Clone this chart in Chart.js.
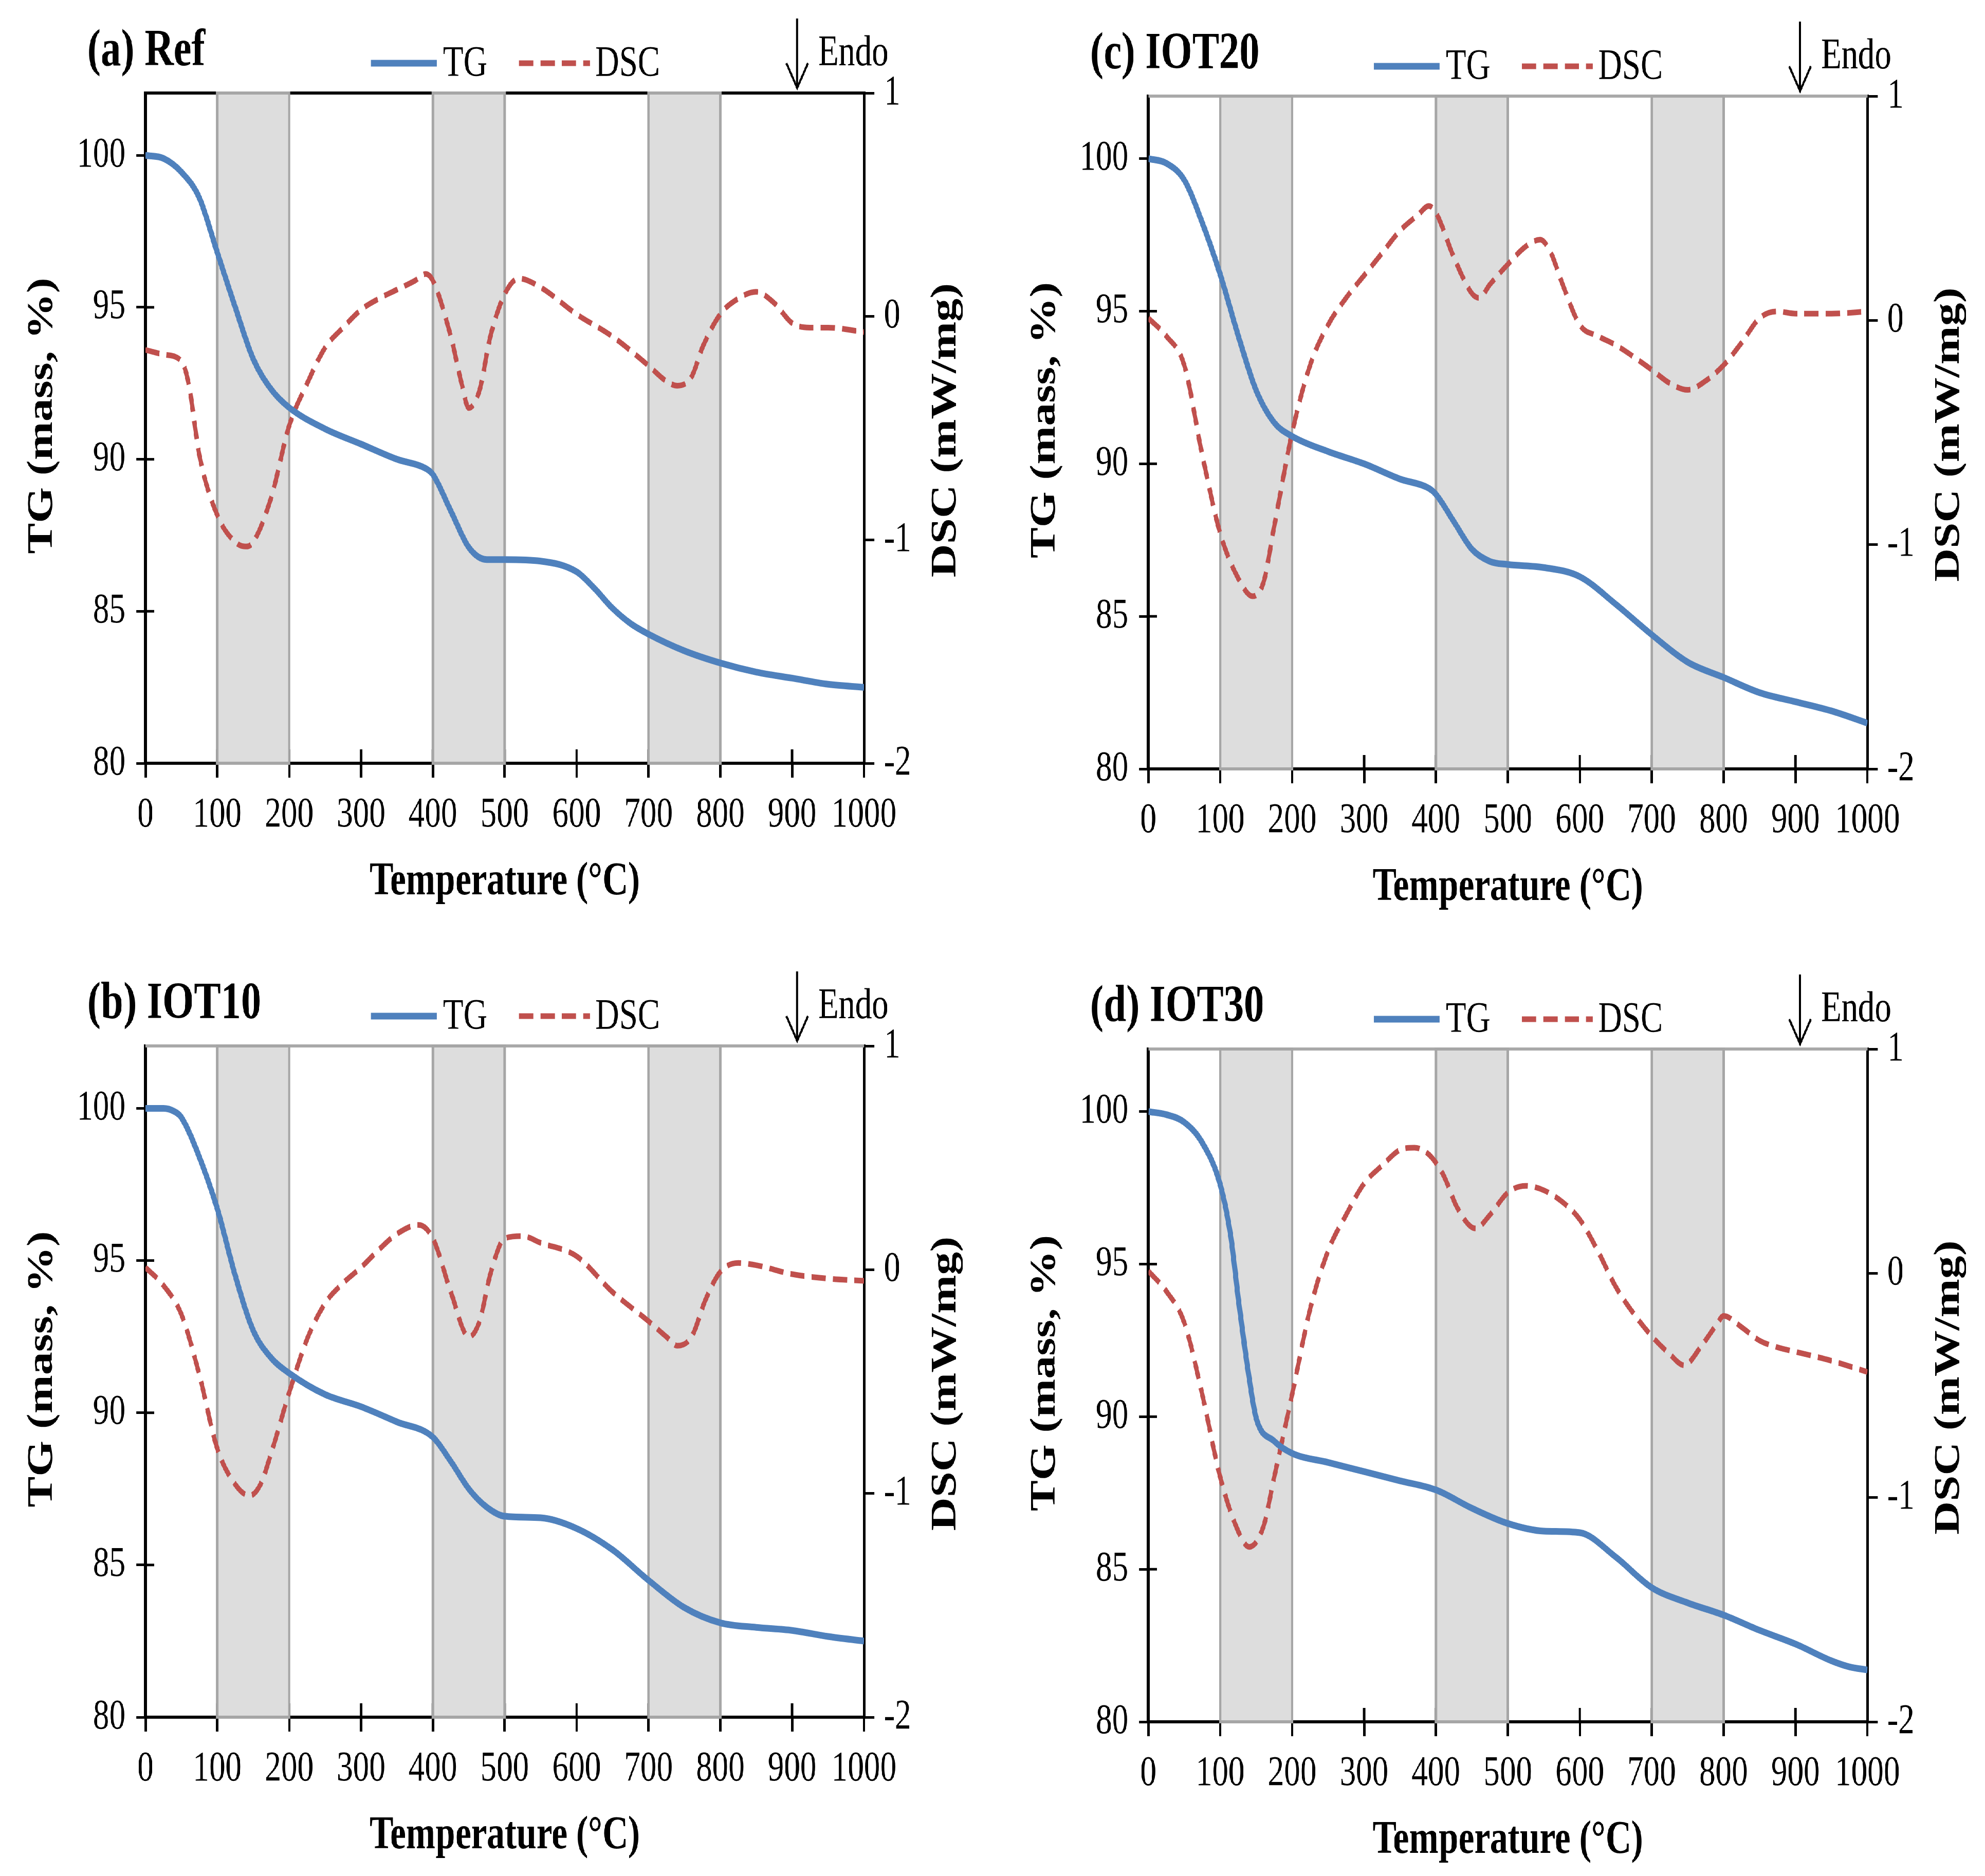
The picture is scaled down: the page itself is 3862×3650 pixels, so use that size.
<!DOCTYPE html>
<html>
<head>
<meta charset="utf-8">
<title>TG / DSC curves</title>
<script src="https://cdn.jsdelivr.net/npm/chart.js@4.4.1/dist/chart.umd.min.js"></script>
<style>
  html, body { margin: 0; padding: 0; background: #fff; }
  body { width: 3862px; height: 3650px; overflow: hidden; position: relative; }
  /* the original figure is squashed sideways, text included */
  #sheet { position: absolute; left: 0; top: 0; width: 5016px; height: 3650px;
           transform: scaleX(0.77); transform-origin: 0 0; }
  #sheet canvas { position: absolute; }
</style>
</head>
<body>
<div id="sheet"></div>
<script>
// ---- data ----
const tempTicks = [0, 100, 200, 300, 400, 500, 600, 700, 800, 900, 1000];
const tgTicks = [80, 85, 90, 95, 100];
const dscTicks = [-2, -1, 0, 1];
const bandRanges = [[100, 200], [400, 500], [700, 800]];

// (a) Ref
const refTgT = [0,25,50,75,100,125,150,175,200,250,300,350,390,400,425,450,475,500,550,600,625,650,675,700,750,800,850,900,950,1000];
const refTG  = [100,99.9,99.45,98.6,96.8,95.0,93.3,92.3,91.7,91.0,90.5,90.0,89.7,89.5,88.3,87.1,86.7,86.7,86.65,86.3,85.75,85.1,84.6,84.25,83.7,83.3,83.0,82.8,82.6,82.5];
const refDscT = [0,25,50,60,75,100,125,140,150,175,200,225,250,275,300,325,350,375,390,400,425,440,450,465,480,500,520,550,600,650,700,725,740,760,775,800,825,850,875,900,925,950,1000];
const refDSC  = [-0.15,-0.17,-0.2,-0.3,-0.62,-0.89,-1.01,-1.03,-1.01,-0.81,-0.49,-0.3,-0.14,-0.05,0.03,0.08,0.12,0.16,0.19,0.16,-0.09,-0.3,-0.41,-0.33,-0.09,0.1,0.17,0.13,0.01,-0.09,-0.22,-0.29,-0.31,-0.27,-0.14,0.01,0.08,0.11,0.06,-0.03,-0.05,-0.05,-0.07];

// (b) IOT10
const iot10TgT = [0,25,40,50,75,100,125,150,175,200,250,300,350,400,425,450,475,500,550,600,650,700,750,800,850,900,950,1000];
const iot10TG  = [100,100,99.9,99.7,98.4,96.7,94.5,92.7,91.8,91.3,90.6,90.2,89.7,89.2,88.4,87.5,86.9,86.6,86.55,86.2,85.5,84.5,83.6,83.1,82.95,82.85,82.65,82.5];
const iot10DscT = [0,25,50,75,100,125,145,160,175,200,225,250,275,300,325,350,380,400,425,450,465,480,500,525,550,600,650,700,725,740,760,780,800,825,850,900,950,1000];
const iot10DSC  = [0.01,-0.07,-0.2,-0.47,-0.8,-0.96,-1.01,-0.96,-0.82,-0.55,-0.31,-0.15,-0.06,0.01,0.09,0.16,0.2,0.14,-0.1,-0.3,-0.23,-0.02,0.14,0.15,0.12,0.06,-0.1,-0.23,-0.3,-0.34,-0.3,-0.13,-0.01,0.03,0.02,-0.02,-0.04,-0.05];

// (c) IOT20
const iot20TgT = [0,25,50,75,100,125,150,175,200,250,300,350,390,400,425,450,475,500,550,600,650,700,750,800,850,900,950,1000];
const iot20TG  = [100,99.85,99.3,97.9,96.2,94.2,92.4,91.35,90.9,90.4,90.0,89.5,89.2,89.0,88.1,87.2,86.8,86.7,86.6,86.3,85.4,84.4,83.5,83.0,82.5,82.2,81.9,81.5];
const iot20DscT = [0,25,50,75,100,125,145,160,175,200,225,250,275,300,325,350,375,390,400,425,450,460,475,500,525,545,560,575,600,625,650,700,725,750,775,800,825,850,875,900,950,1000];
const iot20DSC  = [0.01,-0.07,-0.2,-0.6,-0.95,-1.15,-1.23,-1.17,-0.92,-0.5,-0.2,-0.02,0.1,0.2,0.3,0.4,0.47,0.51,0.48,0.28,0.12,0.1,0.16,0.25,0.33,0.36,0.3,0.17,-0.02,-0.07,-0.11,-0.22,-0.28,-0.31,-0.27,-0.2,-0.1,0.01,0.04,0.03,0.03,0.04];

// (d) IOT30
const iot30TgT = [0,25,50,75,100,115,125,140,150,175,200,250,300,350,400,450,500,550,600,650,700,750,800,850,900,950,975,1000];
const iot30TG  = [100,99.9,99.65,98.98,97.6,95.85,93.9,91.3,89.95,89.2,88.8,88.5,88.2,87.9,87.6,87.0,86.5,86.25,86.2,85.4,84.4,83.9,83.5,83.0,82.55,82.0,81.8,81.7];
const iot30DscT = [0,25,50,75,100,125,140,160,175,200,225,250,275,300,325,350,370,390,410,430,455,475,500,525,550,575,600,625,650,675,700,725,745,770,790,800,825,850,875,900,950,1000];
const iot30DSC  = [0.01,-0.08,-0.22,-0.54,-0.91,-1.15,-1.22,-1.13,-0.91,-0.54,-0.16,0.1,0.26,0.4,0.48,0.55,0.56,0.53,0.44,0.29,0.2,0.26,0.36,0.39,0.37,0.32,0.24,0.1,-0.06,-0.18,-0.28,-0.36,-0.41,-0.32,-0.23,-0.19,-0.24,-0.3,-0.33,-0.35,-0.39,-0.44];

// ---- layout (page pixels) ----
const SQUEEZE = 0.77;
const SERIF = '"Liberation Serif", "Times New Roman", serif';
const TG_COLOR = '#4F81BD';
const DSC_COLOR = '#C0504D';
const DSC_DASH = [36, 18];
const CANVAS_W = 1880, CANVAS_H = 1790, PAD_L = 283, PAD_T = 181;

const panels = [
  { title: '(a) Ref',   L: 283,  R: 1681, T: 181,  B: 1485, topColor: '#000000', tgT: refTgT,   tg: refTG,   dscT: refDscT,   dsc: refDSC },
  { title: '(c) IOT20', L: 2234, R: 3633, T: 187,  B: 1496, topColor: '#a9a9a9', tgT: iot20TgT, tg: iot20TG, dscT: iot20DscT, dsc: iot20DSC },
  { title: '(b) IOT10', L: 283,  R: 1681, T: 2035, B: 3341, topColor: '#a9a9a9', tgT: iot10TgT, tg: iot10TG, dscT: iot10DscT, dsc: iot10DSC },
  { title: '(d) IOT30', L: 2234, R: 3633, T: 2041, B: 3350, topColor: '#a9a9a9', tgT: iot30TgT, tg: iot30TG, dscT: iot30DscT, dsc: iot30DSC },
];

const sx = v => v / SQUEEZE;   // page px -> canvas px, horizontally

function seg(ctx, x0, y0, x1, y1) {
  ctx.beginPath(); ctx.moveTo(x0, y0); ctx.lineTo(x1, y1); ctx.stroke();
}

function makeDecor(p) {
  return {
    id: 'decor',
    beforeDatasetsDraw(chart) {
      const { ctx, chartArea: a, scales: { x, y } } = chart;
      ctx.save();
      // top frame line
      ctx.strokeStyle = p.topColor; ctx.lineWidth = 6;
      seg(ctx, a.left, a.top, a.right, a.top);
      // tick marks also poke inside the frame
      ctx.strokeStyle = '#000';
      ctx.lineWidth = 6;
      x.ticks.forEach(t => { const px = x.getPixelForValue(t.value); seg(ctx, px, a.bottom, px, a.bottom - 27); });
      ctx.lineWidth = 5;
      y.ticks.forEach(t => { const py = y.getPixelForValue(t.value); seg(ctx, a.left, py, a.left + sx(17), py); });
      // shaded temperature windows
      bandRanges.forEach(([lo, hi]) => {
        const x0 = x.getPixelForValue(lo), x1 = x.getPixelForValue(hi);
        ctx.fillStyle = '#dddddd';
        ctx.fillRect(x0, a.top, x1 - x0, a.bottom - a.top);
        ctx.strokeStyle = '#a6a6a6'; ctx.lineWidth = 6;
        ctx.strokeRect(x0, a.top, x1 - x0, a.bottom - a.top);
      });
      ctx.restore();
    },
    afterDraw(chart) {
      const { ctx, chartArea: a } = chart;
      ctx.save();
      ctx.fillStyle = '#000';
      ctx.textBaseline = 'alphabetic';
      ctx.textAlign = 'left';

      // panel title
      ctx.font = 'bold 102px ' + SERIF;
      ctx.fillText(p.title, a.left - sx(113), a.top - 54);

      // legend
      const ly = a.top - 58;
      ctx.lineCap = 'butt';
      ctx.strokeStyle = TG_COLOR; ctx.lineWidth = 13;
      seg(ctx, a.left + sx(439), ly, a.left + sx(567), ly);
      ctx.strokeStyle = DSC_COLOR; ctx.lineWidth = 11; ctx.setLineDash(DSC_DASH);
      seg(ctx, a.left + sx(727), ly, a.left + sx(865), ly);
      ctx.setLineDash([]);
      ctx.font = '84px ' + SERIF;
      ctx.fillText('TG', a.left + sx(579), a.top - 33);
      ctx.fillText('DSC', a.left + sx(875), a.top - 33);

      // endotherm arrow
      const ax = a.left + sx(1268);
      ctx.strokeStyle = '#000'; ctx.lineWidth = 5;
      seg(ctx, ax, a.top - 145, ax, a.top - 10);
      ctx.beginPath();
      ctx.moveTo(ax - sx(21), a.top - 58); ctx.lineTo(ax, a.top - 10); ctx.lineTo(ax + sx(21), a.top - 58);
      ctx.stroke();
      ctx.fillText('Endo', a.left + sx(1309), a.top - 54);

      // axis titles
      ctx.font = 'bold 90px ' + SERIF;
      ctx.textAlign = 'center';
      ctx.textBaseline = 'middle';
      const midY = (a.top + a.bottom) / 2;
      ctx.fillText('Temperature (°C)', (a.left + a.right) / 2, a.bottom + 232);

      ctx.save();
      ctx.translate(a.left - sx(200), midY - 24);
      ctx.rotate(-Math.PI / 2);
      ctx.fillText('TG (mass, %)', 0, 0);
      ctx.restore();

      ctx.save();
      ctx.translate(a.right + sx(160), midY + 4);
      ctx.rotate(-Math.PI / 2);
      ctx.fillText('DSC (mW/mg)', 0, 0);
      ctx.restore();

      ctx.restore();
    }
  };
}

const sheet = document.getElementById('sheet');

panels.forEach(p => {
  const canvas = document.createElement('canvas');
  const cw = Math.round(sx(CANVAS_W));
  canvas.width = cw;
  canvas.height = CANVAS_H;
  canvas.style.width = cw + 'px';
  canvas.style.height = CANVAS_H + 'px';
  canvas.style.left = sx(p.L - PAD_L) + 'px';
  canvas.style.top = (p.T - PAD_T) + 'px';
  sheet.appendChild(canvas);

  const plotW = sx(p.R - p.L);
  const plotH = p.B - p.T;
  const leftW = sx(PAD_L);
  const rightW = cw - leftW - plotW;
  const bottomH = CANVAS_H - PAD_T - plotH;
  const tickFont = { family: SERIF, size: 82 };

  new Chart(canvas.getContext('2d'), {
    type: 'line',
    data: {
      datasets: [
        {
          label: 'TG',
          data: p.tgT.map((t, i) => ({ x: t, y: p.tg[i] })),
          yAxisID: 'y',
          borderColor: TG_COLOR,
          borderWidth: 13,
          pointRadius: 0,
          cubicInterpolationMode: 'monotone',
          borderJoinStyle: 'round',
          fill: false,
        },
        {
          label: 'DSC',
          data: p.dscT.map((t, i) => ({ x: t, y: p.dsc[i] })),
          yAxisID: 'y1',
          borderColor: DSC_COLOR,
          borderWidth: 11,
          borderDash: DSC_DASH,
          pointRadius: 0,
          cubicInterpolationMode: 'monotone',
          fill: false,
        },
      ],
    },
    options: {
      responsive: false,
      devicePixelRatio: 1,
      animation: false,
      events: [],
      layout: { padding: { left: 0, right: 0, top: PAD_T, bottom: 0 } },
      plugins: { legend: { display: false }, tooltip: { enabled: false } },
      scales: {
        x: {
          type: 'linear',
          position: 'bottom',
          min: 0,
          max: 1000,
          afterBuildTicks: sc => { sc.ticks = tempTicks.map(v => ({ value: v })); },
          afterFit: sc => { sc.height = bottomH; },
          ticks: { font: tickFont, color: '#000', padding: 24, maxRotation: 0, autoSkip: false, callback: v => String(v) },
          grid: { drawOnChartArea: false, drawTicks: true, tickLength: 28, color: '#000', lineWidth: 6 },
          border: { display: true, color: '#000', width: 6 },
        },
        y: {
          position: 'left',
          min: 80,
          max: 102.05,
          afterBuildTicks: sc => { sc.ticks = tgTicks.map(v => ({ value: v })); },
          afterFit: sc => { sc.width = leftW; },
          ticks: { font: tickFont, color: '#000', padding: sx(21), callback: v => String(v) },
          grid: { drawOnChartArea: false, drawTicks: true, tickLength: sx(18), color: '#000', lineWidth: 5 },
          border: { display: true, color: '#000', width: 7 },
        },
        y1: {
          position: 'right',
          min: -2,
          max: 1,
          afterBuildTicks: sc => { sc.ticks = dscTicks.map(v => ({ value: v })); },
          afterFit: sc => { sc.width = rightW; },
          ticks: { font: tickFont, color: '#000', padding: sx(19), callback: v => String(v) },
          grid: { drawOnChartArea: false, drawTicks: true, tickLength: sx(20), color: '#000', lineWidth: 5 },
          border: { display: true, color: '#000', width: 7 },
        },
      },
    },
    plugins: [makeDecor(p)],
  });
});
</script>
</body>
</html>
